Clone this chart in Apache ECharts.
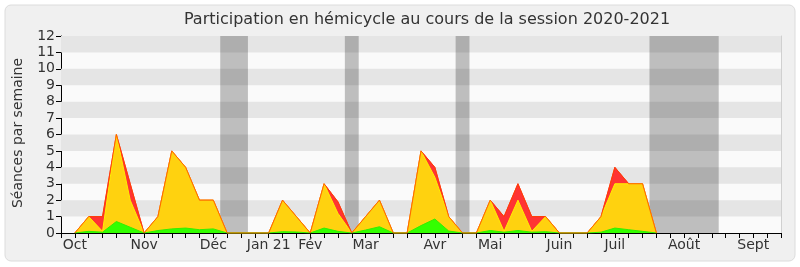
<!DOCTYPE html>
<html><head><meta charset="utf-8">
<script src="https://cdn.jsdelivr.net/npm/echarts@6/dist/echarts.min.js"></script>
<style>html,body{margin:0;padding:0;background:#fff}#c{width:800px;height:267px}</style>
</head><body><div id="c"></div>
<script>
// week index (0 = first week of October 2020)
const weeks = [0,1,2,3,4,5,6,7,8,9,10,11,12,13,14,15,16,17,18,19,20,21,22,23,24,25,26,27,28,29,30,31,32,33,34,35,36,37,38,39,40,41,42];
const redValues    = [0,1,1,6,3,0,1,5,4,2,2,0,0,0,0,2,1,0,3,1.9,0,1,2,0,0,5,4,1,0,0,2,1,3,1,1,0,0,0,1,4,3,3,0];
const yellowValues = [0,1,0.1,6,2,0,1,5,4,2,2,0,0,0,0,2,1,0,3,1.2,0,1,2,0,0,5,3.4,1,0,0,2,0.1,2,0.1,1,0,0,0,1,3,3,3,0];
const greenValues  = [0,0.1,0.05,0.7,0.35,0,0.15,0.25,0.3,0.2,0.25,0,0,0,0,0.08,0.06,0,0.3,0.1,0,0.18,0.38,0,0,0.45,0.85,0.12,0,0,0.15,0.05,0.15,0.05,0.08,0,0,0,0.05,0.3,0.2,0.1,0];
const monthWeeks  = [0,5,10,14,17,21,26,30,35,39,44,49];
const monthLabels = ['Oct','Nov','Déc','Jan 21','Fév','Mar','Avr','Mai','Juin','Juil','Août','Sept'];
const recessWeeks = [[10.5,12.5],[19.5,20.5],[27.5,28.5],[41.5,46.5]];
const yTicks = [0,1,2,3,4,5,6,7,8,9,10,11,12];
const titleText = 'Participation en hémicycle au cours de la session 2020-2021';
const yName = 'Séances par semaine';

const FONT = 'DejaVu Sans';
const chart = echarts.init(document.getElementById('c'), null, {renderer:'canvas'});
const pairs = v => weeks.map((w,i)=>[w,v[i]]);
const stripes = [];
for (let k=1;k<12;k+=2) stripes.push([{yAxis:k},{yAxis:k+1}]);
const bands = recessWeeks.map(r=>[{xAxis:r[0]},{xAxis:r[1]}]);

chart.setOption({
  animation:false,
  backgroundColor:'#ffffff',
  graphic:[
    {type:'rect', z:-10, shape:{x:5,y:5,width:790,height:256,r:6}, style:{fill:'#f0f0f0',stroke:'#dcdcdc',lineWidth:1}},
    {type:'text', z:10, x:427, y:20, style:{text:titleText, font:'16px '+FONT, fill:'#333', textAlign:'center', textVerticalAlign:'middle'}},
    {type:'text', z:10, x:18, y:133, rotation:Math.PI/2, style:{text:yName, font:'14px '+FONT, fill:'#333', textAlign:'center', textVerticalAlign:'middle'}}
  ],
  grid:{left:61,right:19,top:36,bottom:34,show:true,backgroundColor:'#fafafa',borderWidth:0},
  xAxis:[{
    type:'value', min:-1, max:51, interval:1,
    axisLine:{show:true,onZero:false,lineStyle:{color:'#000',width:1}},
    axisTick:{show:true,length:5,lineStyle:{color:'#000'}},
    splitLine:{show:false},
    axisLabel:{show:true,margin:5,color:'#333',fontSize:14,fontFamily:FONT,showMinLabel:true,showMaxLabel:true,
      formatter:v=>{const i=monthWeeks.indexOf(Math.round(v)); return (i>=0 && Math.abs(v-Math.round(v))<1e-6)?monthLabels[i]:'';}}
  },{
    type:'value', position:'top', min:-1, max:51, interval:1,
    axisLine:{show:false},
    axisTick:{show:true,inside:true,length:2,lineStyle:{color:'#000'}},
    axisLabel:{show:false}, splitLine:{show:false}
  }],
  yAxis:[{
    type:'value', min:0, max:12, interval:1,
    axisLine:{show:true,onZero:false,lineStyle:{color:'#000'}},
    axisTick:{show:true,length:5,lineStyle:{color:'#000'}},
    splitLine:{show:false},
    axisLabel:{color:'#333',fontSize:14,fontFamily:FONT,margin:6,formatter:v=>yTicks.includes(v)?String(v):''}
  },{
    type:'value', position:'right', min:0, max:12, interval:1,
    axisLine:{show:true,onZero:false,lineStyle:{color:'#d0d0d0'}},
    axisTick:{show:false}, axisLabel:{show:false}, splitLine:{show:false}
  }],
  series:[
    {type:'line', z:1, data:[], silent:true,
      markArea:{silent:true, itemStyle:{color:'#e5e5e5'}, data:stripes}},
    {type:'line', z:1, data:[], silent:true,
      markArea:{silent:true, itemStyle:{color:'rgba(0,0,0,0.24)'}, data:bands}},
    {type:'line', z:2, data:pairs(redValues), symbol:'none', lineStyle:{color:'#ff2a1a',width:1},
      areaStyle:{color:'#ff3333',opacity:1}},
    {type:'line', z:3, data:pairs(yellowValues), symbol:'none', lineStyle:{color:'#ffee00',width:1},
      areaStyle:{color:'#ffd20f',opacity:1}},
    {type:'line', z:4, data:pairs(greenValues), symbol:'none', lineStyle:{color:'#33ee00',width:1},
      areaStyle:{color:'#33ff00',opacity:1}},
    {type:'line', z:5, data:pairs(redValues), symbol:'none', lineStyle:{color:'#ff4400',width:1,opacity:0.8}}
  ]
});
</script></body></html>
